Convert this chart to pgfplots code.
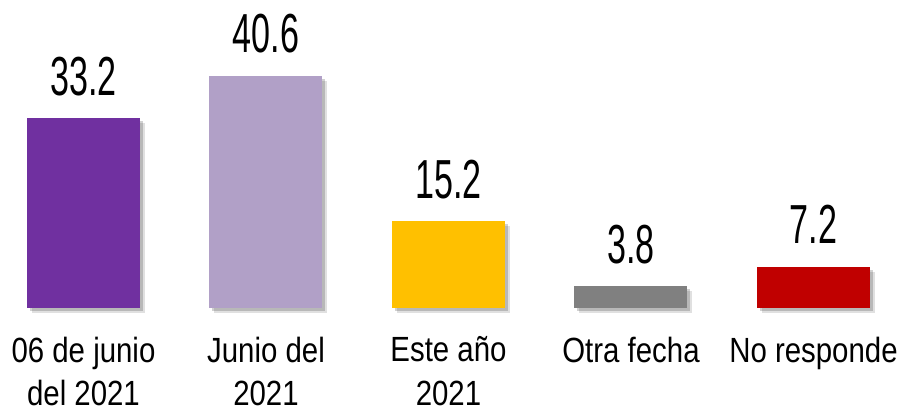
\documentclass[border=0pt]{standalone}
\usepackage{fontspec}
\setmainfont{Liberation Sans}
\newfontfamily\catfont{Liberation Sans}[FakeStretch=0.84]
\newfontfamily\valfont{Liberation Sans}[FakeStretch=0.62]
\usepackage{pgfplots}
\pgfplotsset{compat=1.18}
\usetikzlibrary{shadows}
\definecolor{cA}{HTML}{7030A0}
\definecolor{cB}{HTML}{B1A0C7}
\definecolor{cC}{HTML}{FFC000}
\definecolor{cD}{HTML}{808080}
\definecolor{cE}{HTML}{C00000}
\begin{document}
\begin{tikzpicture}
\begin{axis}[
  name=ax,
  scale only axis, width=902pt, height=308pt,
  xmin=-0.4575, xmax=4.485, ymin=0, ymax=53.85,
  enlargelimits=false, clip=false,
  axis line style={draw=none},
  major tick length=0pt,
  ytick=\empty,
  xtick={0,1,2,3,4},
  xticklabels={{06 de junio\\del 2021},{Junio del\\2021},{Este año\\2021},{Otra fecha},{No responde}},
  xticklabel style={align=center, inner sep=0pt, anchor=north, yshift=-28.5pt,
    font=\catfont\fontsize{35}{43.5}\selectfont},
  ybar, bar width=113pt, bar shift=0pt,
  point meta=explicit symbolic,
  nodes near coords,
  nodes near coords style={font=\valfont\fontsize{55}{60}\selectfont, anchor=base, inner sep=0pt, yshift=23pt, text=black},
  shad/.style={
    preaction={fill=black, opacity=0.12, transform canvas={xshift=5pt, yshift=-5pt}},
    preaction={fill=black, opacity=0.18, transform canvas={xshift=3pt, yshift=-3pt}}},
]
\addplot[draw=none, fill=cA, shad] coordinates {(0,33.2) [33.2]};
\addplot[draw=none, fill=cB, shad] coordinates {(1,40.6) [40.6]};
\addplot[draw=none, fill=cC, shad] coordinates {(2,15.2) [15.2]};
\addplot[draw=none, fill=cD, shad] coordinates {(3,3.8) [3.8]};
\addplot[draw=none, fill=cE, shad] coordinates {(4,7.2) [7.2]};
\end{axis}
\pgfresetboundingbox
\path (ax.south west) ++(0,-103.5pt) rectangle (ax.north east);
\end{tikzpicture}
\end{document}
